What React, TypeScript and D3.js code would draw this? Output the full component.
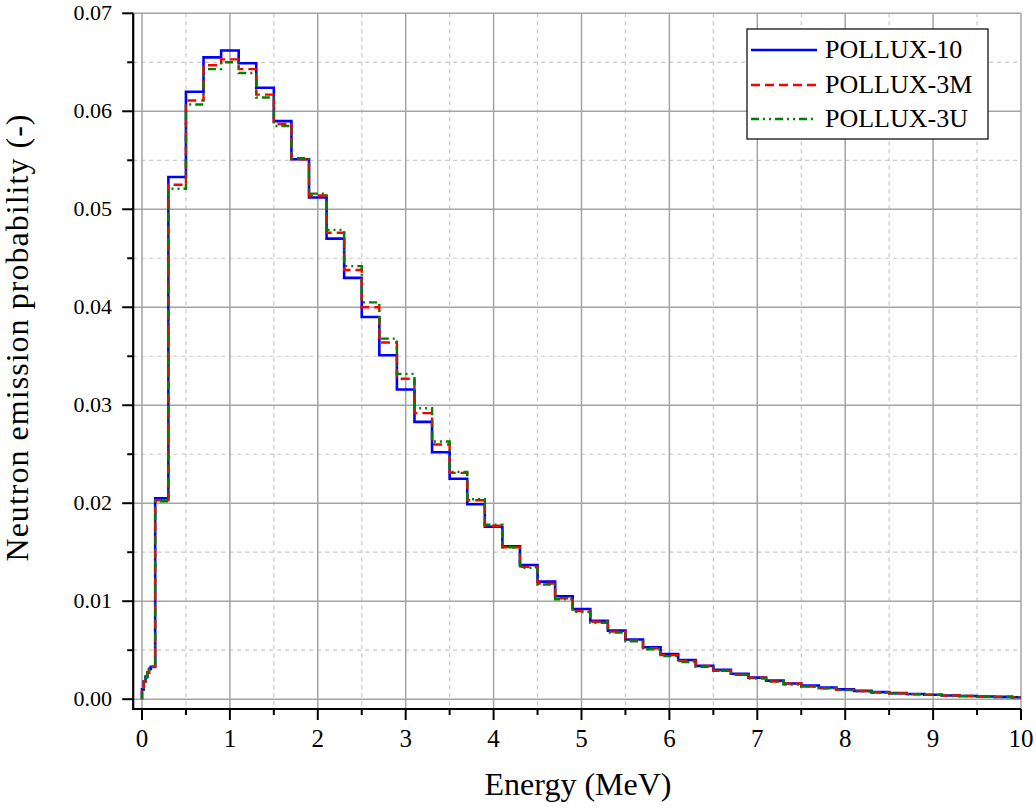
import React from "react";
import * as d3 from "d3";

// Energy group edges (MeV)
const edges: number[] = [
  0, 0.02, 0.04, 0.06, 0.08, 0.1, 0.15, 0.3, 0.5, 0.7, 0.9, 1.1, 1.3, 1.5, 1.7, 1.9,
  2.1, 2.3, 2.5, 2.7, 2.9, 3.1, 3.3, 3.5, 3.7, 3.9, 4.1, 4.3, 4.5, 4.7, 4.9, 5.1,
  5.3, 5.5, 5.7, 5.9, 6.1, 6.3, 6.5, 6.7, 6.9, 7.1, 7.3, 7.5, 7.7, 7.9, 8.1, 8.3,
  8.5, 8.7, 8.9, 9.1, 9.3, 9.5, 9.7, 9.9, 10.1,
];

const pollux10: number[] = [
  0.0010, 0.0018, 0.0023, 0.0027, 0.0031, 0.0033, 0.0205,
  0.0533, 0.0620, 0.0655, 0.0662, 0.0649, 0.0624, 0.0590, 0.0551, 0.0512, 0.0470,
  0.0430, 0.0390, 0.0351, 0.0316, 0.0283, 0.0252, 0.0225, 0.0199, 0.0176, 0.0156,
  0.0137, 0.0120, 0.0105, 0.0092, 0.0080, 0.0070, 0.0061, 0.0053, 0.0046, 0.0040,
  0.0034, 0.0030, 0.0026, 0.0022, 0.0019, 0.0016, 0.0014, 0.0012, 0.0010, 0.00085,
  0.00072, 0.00062, 0.00053, 0.00045, 0.00038, 0.00033, 0.00028, 0.00024, 0.00020,
];

const pollux3M: number[] = [
  0.0010, 0.0018, 0.0023, 0.0027, 0.0031, 0.0033, 0.0203,
  0.0525, 0.0611, 0.0647, 0.0653, 0.0643, 0.0617, 0.0587, 0.0551, 0.0514, 0.0476,
  0.0438, 0.0400, 0.0364, 0.0327, 0.0292, 0.0260, 0.0231, 0.0203, 0.0177, 0.0155,
  0.0135, 0.0118, 0.0103, 0.0090, 0.0079, 0.0069, 0.0060, 0.0052, 0.0045, 0.0039,
  0.0034, 0.0029, 0.0025, 0.0022, 0.0018, 0.0016, 0.0013, 0.0011, 0.00095, 0.00083,
  0.00071, 0.00060, 0.00052, 0.00044, 0.00038, 0.00032, 0.00028, 0.00024, 0.00020,
];

const pollux3U: number[] = [
  0.0009, 0.0017, 0.0022, 0.0027, 0.0030, 0.0033, 0.0202,
  0.0521, 0.0607, 0.0643, 0.0650, 0.0639, 0.0614, 0.0585, 0.0552, 0.0516, 0.0479,
  0.0442, 0.0405, 0.0368, 0.0332, 0.0297, 0.0263, 0.0232, 0.0204, 0.0178, 0.0155,
  0.0134, 0.0117, 0.0102, 0.0089, 0.0078, 0.0068, 0.0059, 0.0051, 0.0044, 0.0038,
  0.0033, 0.0029, 0.0025, 0.0021, 0.0018, 0.0015, 0.0013, 0.0011, 0.00093, 0.00080,
  0.00069, 0.00059, 0.00051, 0.00044, 0.00037, 0.00032, 0.00027, 0.00023, 0.00020,
];

const seriesNames: string[] = ["POLLUX-10", "POLLUX-3M", "POLLUX-3U"];
const xMajorTicks: number[] = [0, 1, 2, 3, 4, 5, 6, 7, 8, 9, 10];
const xMinorTicks: number[] = [0.5, 1.5, 2.5, 3.5, 4.5, 5.5, 6.5, 7.5, 8.5, 9.5];
const yMajorTicks: number[] = [0, 0.01, 0.02, 0.03, 0.04, 0.05, 0.06, 0.07];
const yMinorTicks: number[] = [0.005, 0.015, 0.025, 0.035, 0.045, 0.055, 0.065];

const FONT = "'Liberation Serif', 'Times New Roman', serif";

export default function App() {
  const left = 133.2;
  const right = 1021;
  const top = 13.3;
  const bottom = 709;
  const x = d3.scaleLinear().domain([-0.1, 10]).range([left, right]);
  const y = d3.scaleLinear().domain([-0.001, 0.07]).range([bottom, top]);

  const makePts = (vals: number[]) => {
    const pts: [number, number][] = [[0, 0]];
    vals.forEach((v, i) => pts.push([edges[i], v]));
    pts.push([edges[edges.length - 1], vals[vals.length - 1]]);
    return pts;
  };
  const line = d3
    .line<[number, number]>()
    .x((d) => x(d[0]))
    .y((d) => y(d[1]))
    .curve(d3.curveStepAfter);

  const series = [
    { name: seriesNames[0], vals: pollux10, color: "#0000ff", dash: "none", w: 2.6 },
    { name: seriesNames[1], vals: pollux3M, color: "#ff0000", dash: "9,5", w: 2.4 },
    { name: seriesNames[2], vals: pollux3U, color: "#008000", dash: "8,4,2,4,2,4", w: 2.4 },
  ];

  const legX = 747;
  const legY = 29;
  const legRows = [50, 85, 119];

  return (
    <svg
      width={1036}
      height={810}
      style={{ position: "absolute", left: 0, top: 0, background: "#fff" }}
    >
      <rect x={0} y={0} width={1036} height={810} fill="#fff" />
      <defs>
        <clipPath id="plotclip">
          <rect x={left} y={top - 2} width={right - left} height={bottom - top + 2} />
        </clipPath>
      </defs>
      {/* minor grid */}
      {xMinorTicks.map((t) => (
        <line key={"xm" + t} x1={x(t)} x2={x(t)} y1={top} y2={bottom} stroke="#c8c8c8" strokeWidth={1.2} strokeDasharray="4,4" />
      ))}
      {yMinorTicks.map((t) => (
        <line key={"ym" + t} x1={left} x2={right} y1={y(t)} y2={y(t)} stroke="#c8c8c8" strokeWidth={1.2} strokeDasharray="4,4" />
      ))}
      {/* major grid */}
      {xMajorTicks.map((t) => (
        <line key={"xg" + t} x1={x(t)} x2={x(t)} y1={top} y2={bottom} stroke="#a4a4a4" strokeWidth={1.5} />
      ))}
      {yMajorTicks.map((t) => (
        <line key={"yg" + t} x1={left} x2={right} y1={y(t)} y2={y(t)} stroke="#a4a4a4" strokeWidth={1.5} />
      ))}
      {/* series */}
      <g clipPath="url(#plotclip)">
        {series.map((s) => (
          <path
            key={s.name}
            d={line(makePts(s.vals)) || ""}
            fill="none"
            stroke={s.color}
            strokeWidth={s.w}
            strokeDasharray={s.dash}
            strokeLinejoin="miter"
          />
        ))}
      </g>
      {/* axes */}
      <line x1={left} x2={left} y1={top} y2={bottom + 1} stroke="#000" strokeWidth={2.2} />
      <line x1={left - 1} x2={right} y1={bottom} y2={bottom} stroke="#000" strokeWidth={2.2} />
      {yMajorTicks.map((t) => (
        <g key={"yt" + t}>
          <line x1={left - 11} x2={left} y1={y(t)} y2={y(t)} stroke="#000" strokeWidth={2} />
          <text x={112} y={y(t) + 7} textAnchor="end" fontFamily={FONT} fontSize={22} fill="#000">
            {t.toFixed(2)}
          </text>
        </g>
      ))}
      {yMinorTicks.map((t) => (
        <line key={"ymt" + t} x1={left - 6} x2={left} y1={y(t)} y2={y(t)} stroke="#000" strokeWidth={2} />
      ))}
      {xMajorTicks.map((t) => (
        <g key={"xt" + t}>
          <line x1={x(t)} x2={x(t)} y1={bottom} y2={bottom + 11} stroke="#000" strokeWidth={2} />
          <text x={x(t)} y={747} textAnchor="middle" fontFamily={FONT} fontSize={25} fill="#000">
            {t}
          </text>
        </g>
      ))}
      {xMinorTicks.map((t) => (
        <line key={"xmt" + t} x1={x(t)} x2={x(t)} y1={bottom} y2={bottom + 6} stroke="#000" strokeWidth={2} />
      ))}
      {/* axis titles */}
      <text x={578} y={795} textAnchor="middle" fontFamily={FONT} fontSize={32} fill="#000">
        Energy (MeV)
      </text>
      <text
        transform={`translate(28,338) rotate(-90)`}
        textAnchor="middle"
        fontFamily={FONT}
        fontSize={32}
        textLength={447}
        lengthAdjust="spacing"
        fill="#000"
      >
        Neutron emission probability (-)
      </text>
      {/* legend */}
      <rect x={legX} y={legY} width={241} height={110} fill="#fff" stroke="#000" strokeWidth={1.2} />
      {series.map((s, i) => (
        <g key={"leg" + s.name}>
          <line x1={751} x2={817} y1={legRows[i]} y2={legRows[i]} stroke={s.color} strokeWidth={2.6} strokeDasharray={s.dash} />
          <text x={825} y={legRows[i] + 8} fontFamily={FONT} fontSize={26} fill="#000">
            {s.name}
          </text>
        </g>
      ))}
    </svg>
  );
}
